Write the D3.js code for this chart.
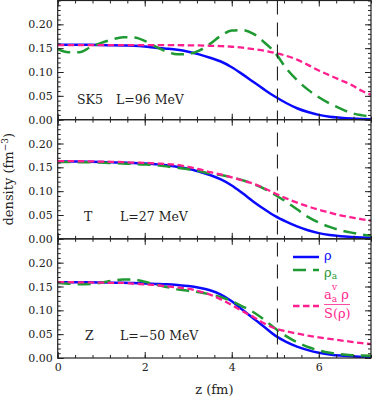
<!DOCTYPE html>
<html>
<head>
<meta charset="utf-8">
<script src="https://cdn.jsdelivr.net/npm/d3@7"></script>
<style>
  body { margin: 0; background: #fff; }
  text { font-family: "DejaVu Serif", serif; fill: #222; }
</style>
</head>
<body>
<svg id="chart" width="372" height="398"></svg>
<script>
// z grid (fm) shared by all curves
var zGrid = [0,0.25,0.5,0.75,1,1.25,1.5,1.75,2,2.25,2.5,2.75,3,3.25,3.5,3.75,4,4.25,4.5,4.75,5,5.25,5.5,5.75,6,6.25,6.5,6.75,7,7.2];

var modelNames = ["SK5", "T", "Z"];
var slopeLabels = ["L=96 MeV", "L=27 MeV", "L=\u221250 MeV"];

// SK5
var rhoSK5   = [.157,.157,.157,.157,.1565,.156,.1555,.155,.1535,.151,.149,.1465,.1425,.137,.130,.122,.110,.095,.079,.063,.048,.035,.024,.016,.010,.006,.004,.0025,.0015,.001];
var rhoaSK5  = [.148,.1415,.1415,.152,.161,.168,.173,.1725,.1655,.153,.143,.137,.138,.145,.159,.176,.187,.188,.180,.162,.140,.108,.083,.063,.047,.034,.023,.014,.009,.006];
var ratioSK5 = [.1565,.1565,.1565,.1565,.1565,.1565,.1565,.1565,.1565,.1565,.1565,.1563,.156,.1558,.155,.1543,.153,.151,.148,.1445,.140,.134,.126,.115,.103,.093,.083,.073,.060,.0525];
// T
var rhoT   = [.162,.162,.162,.1615,.161,.1605,.160,.159,.158,.1565,.1545,.151,.147,.141,.134,.1245,.112,.0955,.078,.062,.0475,.036,.026,.018,.012,.008,.0055,.004,.003,.0025];
var rhoaT  = [.161,.161,.1608,.1605,.160,.159,.158,.157,.156,.1545,.152,.149,.146,.142,.137,.134,.129,.123,.115,.105,.092,.078,.062,.046,.034,.025,.018,.013,.009,.007];
var ratioT = [.163,.163,.1628,.1625,.162,.1615,.161,.160,.1595,.158,.157,.155,.151,.146,.140,.135,.129,.1225,.1155,.106,.095,.085,.076,.068,.061,.055,.049,.045,.041,.038];
// Z
var rhoZ   = [.159,.159,.159,.1588,.1585,.158,.1578,.1572,.1565,.1555,.1545,.153,.151,.1475,.142,.133,.119,.101,.083,.065,.047,.034,.024,.0165,.011,.0075,.005,.0035,.002,.0015];
var rhoaZ  = [.1575,.156,.1548,.1552,.158,.162,.1645,.1645,.160,.154,.149,.144,.141,.138,.1335,.128,.119,.108,.096,.080,.062,.046,.033,.023,.016,.011,.008,.006,.005,.0045];
var ratioZ = [.159,.159,.1588,.1585,.158,.1578,.1575,.156,.1545,.153,.1505,.148,.1455,.140,.133,.123,.111,.098,.086,.0725,.062,.056,.0515,.047,.0435,.040,.037,.034,.031,.029];

var panelSeries = [
  [rhoSK5, rhoaSK5, ratioSK5],
  [rhoT, rhoaT, ratioT],
  [rhoZ, rhoaZ, ratioZ]
];

var xTicks = [0, 2, 4, 6];
var yTicks = [0, 0.05, 0.10, 0.15, 0.20];
var zCut = 5.05;

var colors = ["#0a0aff", "#1f9a33", "#ff1f8e"];
var dashes = [null, "13,7", "6.5,3.5"];
var widths = [2.5, 2.5, 2.3];

var plotL = 57.7, plotR = 371, plotT = 0.5, plotB = 358;
var panelH = (plotB - plotT) / 3;

var svg = d3.select("#chart");
var x = d3.scaleLinear().domain([0, 7.2]).range([plotL, plotR]);

svg.append("clipPath").attr("id", "clip")
  .append("rect").attr("x", plotL).attr("y", plotT).attr("width", plotR - plotL).attr("height", plotB - plotT);

panelSeries.forEach(function(series, p) {
  var y0 = plotT + p * panelH;
  var y = d3.scaleLinear().domain([0, 0.25]).range([y0 + panelH, y0]);
  var g = svg.append("g");

  var line = d3.line()
    .x(function(d, i) { return x(zGrid[i]); })
    .y(function(d) { return y(d); })
    .curve(d3.curveMonotoneX);

  var lines = g.append("g").attr("clip-path", "url(#clip)");
  series.forEach(function(vals, k) {
    lines.append("path")
      .attr("d", line(vals))
      .attr("fill", "none")
      .attr("stroke", colors[k])
      .attr("stroke-width", widths[k])
      .attr("stroke-dasharray", dashes[k]);
  });

  // axes with inward ticks
  var minorX = d3.range(0, 7.21, 0.4), minorY = d3.range(0, 0.251, 0.01);
  g.append("g").attr("transform", "translate(0," + (y0 + panelH) + ")")
    .call(d3.axisBottom(x).tickValues(xTicks).tickSizeInner(-6).tickSizeOuter(0).tickPadding(5)
      .tickFormat(p === 2 ? d3.format("d") : ""));
  g.append("g").attr("transform", "translate(0," + (y0 + panelH) + ")")
    .call(d3.axisBottom(x).tickValues(minorX).tickSizeInner(-3).tickSizeOuter(0).tickFormat(""));
  g.append("g").attr("transform", "translate(0," + y0 + ")")
    .call(d3.axisTop(x).tickValues(xTicks).tickSizeInner(-6).tickSizeOuter(0).tickFormat(""));
  g.append("g").attr("transform", "translate(0," + y0 + ")")
    .call(d3.axisTop(x).tickValues(minorX).tickSizeInner(-3).tickSizeOuter(0).tickFormat(""));
  g.append("g").attr("transform", "translate(" + plotL + ",0)")
    .call(d3.axisLeft(y).tickValues(yTicks).tickSizeInner(-6).tickSizeOuter(0).tickPadding(5).tickFormat(d3.format(".2f")));
  g.append("g").attr("transform", "translate(" + plotL + ",0)")
    .call(d3.axisLeft(y).tickValues(minorY).tickSizeInner(-3).tickSizeOuter(0).tickFormat(""));
  g.append("g").attr("transform", "translate(" + plotR + ",0)")
    .call(d3.axisRight(y).tickValues(yTicks).tickSizeInner(-6).tickSizeOuter(0).tickFormat(""));
  g.append("g").attr("transform", "translate(" + plotR + ",0)")
    .call(d3.axisRight(y).tickValues(minorY).tickSizeInner(-3).tickSizeOuter(0).tickFormat(""));

  g.append("rect").attr("x", plotL).attr("y", y0).attr("width", plotR - plotL).attr("height", panelH)
    .attr("fill", "none").attr("stroke", "#222").attr("stroke-width", 1.2);

  // panel labels
  var baseY = y0 + [103.5, 101.7, 101.3][p];
  g.append("text").attr("x", [77, 84, 85][p]).attr("y", baseY).attr("font-size", 12.5).text(modelNames[p]);
  g.append("text").attr("x", [116, 120, 120][p]).attr("y", baseY).attr("font-size", 12.5).text(slopeLabels[p]);
});

svg.selectAll(".domain").remove();
svg.selectAll(".tick line").attr("stroke", "#222");
svg.selectAll(".tick text").attr("font-size", 11).style("font-family", "DejaVu Serif").attr("fill", "#222");

// cut line
svg.append("line").attr("x1", x(zCut)).attr("x2", x(zCut)).attr("y1", plotT).attr("y2", plotB)
  .attr("stroke", "#222").attr("stroke-width", 1.1).attr("stroke-dasharray", "14,8");

// axis titles
svg.append("text").attr("x", x(3.6)).attr("y", 394).attr("text-anchor", "middle").attr("font-size", 13).text("z (fm)");
var yl = svg.append("text").attr("transform", "translate(13," + ((plotT + plotB) / 2) + ") rotate(-90)")
  .attr("text-anchor", "middle").attr("font-size", 13);
yl.append("tspan").text("density (fm");
yl.append("tspan").attr("font-size", 9).attr("dy", -5).text("\u22123");
yl.append("tspan").attr("dy", 5).text(")");

// legend
var lg = svg.append("g");
var legY = [257, 270, 306];
legY.forEach(function(ly, k) {
  lg.append("line").attr("x1", 293).attr("x2", 319).attr("y1", ly).attr("y2", ly)
    .attr("stroke", colors[k]).attr("stroke-width", widths[k]).attr("stroke-dasharray", dashes[k]);
});
lg.append("text").attr("x", 324).attr("y", 260).attr("font-size", 13).style("fill", colors[0]).text("\u03c1");
var t2 = lg.append("text").attr("x", 324).attr("y", 277).attr("font-size", 13).style("fill", colors[1]);
t2.append("tspan").text("\u03c1");
t2.append("tspan").attr("font-size", 9).attr("dy", 2).text("a");
var num = lg.append("text").attr("x", 324).attr("y", 299).attr("font-size", 13).style("fill", colors[2]);
num.append("tspan").text("a");
num.append("tspan").attr("font-size", 9).attr("dy", 3).text("a");
num.append("tspan").attr("dy", -3).text(" \u03c1");
lg.append("text").attr("x", 332).attr("y", 290).attr("font-size", 9).style("fill", colors[2]).text("v");
lg.append("line").attr("x1", 324).attr("x2", 350).attr("y1", 304.5).attr("y2", 304.5)
  .attr("stroke", colors[2]).attr("stroke-width", 0.8);
lg.append("text").attr("x", 324).attr("y", 318).attr("font-size", 13).style("fill", colors[2]).text("S(\u03c1)");
</script>
</body>
</html>
